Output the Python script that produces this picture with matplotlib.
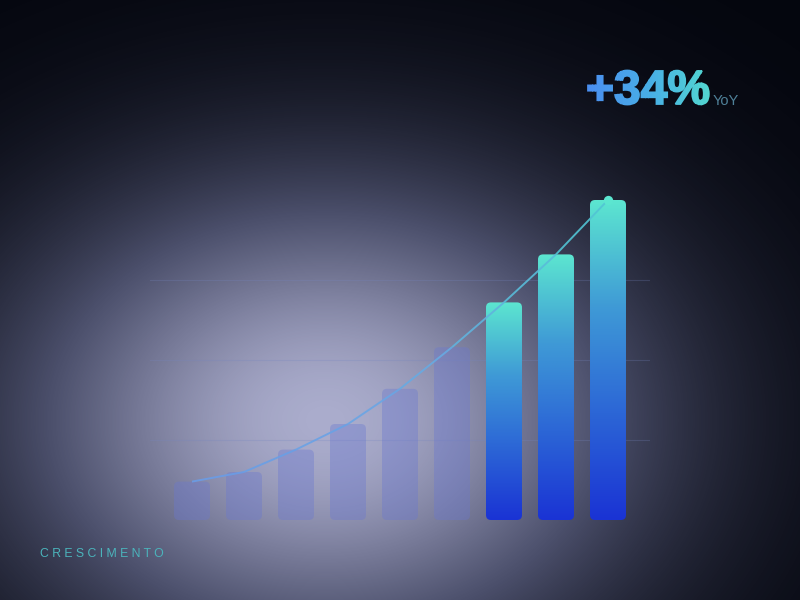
import numpy as np
import matplotlib
matplotlib.use("Agg")
import matplotlib.pyplot as plt
from matplotlib.patches import FancyBboxPatch, PathPatch, Rectangle
from matplotlib.colors import LinearSegmentedColormap
from matplotlib.collections import LineCollection
from matplotlib.textpath import TextPath
from matplotlib.font_manager import FontProperties

# data
periods = list(range(9))
values = [12, 15, 22, 30, 41, 54, 68, 83, 100]
highlight = [False] * 6 + [True] * 3
gridlines = [25, 50, 75]
headline = "+34%"
headline_unit = "YoY"
caption = "CRESCIMENTO"

W, H = 800, 600
fig = plt.figure(figsize=(8, 6), dpi=100)

# background: soft elliptical glow
bg = fig.add_axes([0, 0, 1, 1])
bg.axis("off")
yy, xx = np.mgrid[0:H, 0:W]
r = np.hypot(xx - 325, (yy - 420) * 4 / 3)
f = np.exp(-(r / 310) ** 2)
glow = LinearSegmentedColormap.from_list(
    "glow", [(0, "#04060e"), (0.45, "#4b4f6b"), (1, "#aaaccc")])
bg.imshow(glow(f), extent=(0, W, 0, H), origin="upper", aspect="auto", zorder=0)
bg.set_xlim(0, W)
bg.set_ylim(0, H)

# headline, gradient left to right, drawn in thin strips
prop = FontProperties(family="Liberation Sans", weight="bold")
tp = TextPath((586, H - 104), headline, size=48, prop=prop)
ext = tp.get_extents()
hcmap = LinearSegmentedColormap.from_list("hl", ["#4a8ef0", "#48aee6", "#52d6d0"])
n_strips = 40
edges = np.linspace(ext.x0 - 2, ext.x1 + 2, n_strips + 1)
for i in range(n_strips):
    c = hcmap(i / (n_strips - 1))
    pp = PathPatch(tp, facecolor=c, edgecolor=c, linewidth=1.3, zorder=2)
    bg.add_patch(pp)
    strip = Rectangle((edges[i], ext.y0 - 5), edges[i + 1] - edges[i] + 0.3,
                      ext.height + 10, transform=bg.transData)
    pp.set_clip_path(strip)
bg.text(713, H - 105, headline_unit, fontsize=10.5, color="#4f8199",
        family="Liberation Sans", va="baseline", ha="left", zorder=3)
bg.text(40, H - 557, " ".join(caption), fontsize=8.8, color="#4bb4bc",
        family="Liberation Sans", va="baseline", ha="left", zorder=3)

# chart area
ax = fig.add_axes([150 / W, 80 / H, 500 / W, 320 / H])
ax.set_facecolor("none")
xlim = (-0.8077, 8.8077)
ylim = (0, 100)
for s in ax.spines.values():
    s.set_visible(False)
ax.set_xticks([])
ax.set_yticks(gridlines)
ax.tick_params(left=False, labelleft=False)
ax.grid(axis="y", color="#7585c0", alpha=0.25, linewidth=0.8)
ax.set_axisbelow(True)

bar_w = 0.692
xunit = (xlim[1] - xlim[0]) / 500
yunit = (ylim[1] - ylim[0]) / 320
radius = 5 * xunit
aspect = yunit / xunit

bar_cmap = LinearSegmentedColormap.from_list(
    "bar", ["#1a33d4", "#2c66d6", "#3f9ad6", "#5ce6d0"])
vgrad = np.linspace(0, 1, 256)[:, None]

for x, v, hi in zip(periods, values, highlight):
    x0 = x - bar_w / 2
    if hi:
        p = FancyBboxPatch((x0, 0), bar_w, v,
                           boxstyle=f"round,pad=0,rounding_size={radius}",
                           mutation_aspect=aspect, facecolor="none",
                           edgecolor="none", zorder=2)
        ax.add_patch(p)
        im = ax.imshow(vgrad, cmap=bar_cmap, origin="lower",
                       extent=(x0, x0 + bar_w, 0, v), aspect="auto", zorder=2)
        im.set_clip_path(p)
    else:
        p = FancyBboxPatch((x0, 0), bar_w, v,
                           boxstyle=f"round,pad=0,rounding_size={radius}",
                           mutation_aspect=aspect, facecolor="#6a78d0",
                           alpha=0.38, edgecolor="none", zorder=2)
        ax.add_patch(p)
ax.set_xlim(*xlim)
ax.set_ylim(*ylim)

# trend line
pts = np.column_stack([periods, values])
segs = np.stack([pts[:-1], pts[1:]], axis=1)
lcmap = LinearSegmentedColormap.from_list("ln", ["#6a9ce6", "#6aa6e4", "#52c4d4"])
lc = LineCollection(segs, colors=lcmap(np.linspace(0, 1, len(segs))),
                    linewidths=1.4, alpha=0.9, zorder=3, clip_on=False)
ax.add_collection(lc)
ax.scatter([periods[-1]], [values[-1]], s=45, color="#5ce6d0", zorder=4,
           clip_on=False, linewidths=0)

fig.savefig("out.png", dpi=100)
